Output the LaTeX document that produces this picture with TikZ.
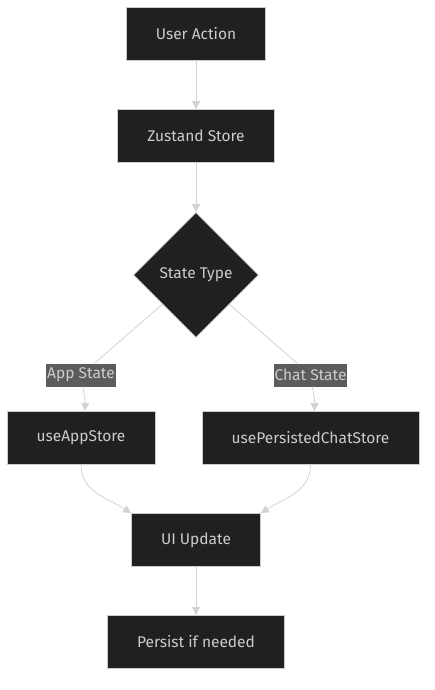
\documentclass[tikz,border=0pt]{standalone}
\usepackage{fontspec}
\setmainfont{Fira Sans}
\usetikzlibrary{arrows.meta,positioning,shapes.geometric}
\definecolor{nodebg}{HTML}{1F2020}
\definecolor{nodeline}{HTML}{CCCCCC}
\definecolor{edgeline}{HTML}{D3D3D3}
\definecolor{lblbg}{HTML}{5C5C5C}

\begin{document}
\begin{tikzpicture}[>={Triangle[length=8pt,width=8pt]}, node distance=100pt, on grid,
  font=\fontsize{15.5}{18}\selectfont,
  box/.style={rectangle, draw=nodeline, line width=0.8pt, fill=nodebg, text=nodeline,
    minimum height=53pt, inner xsep=29.5pt},
  decide/.style={diamond, draw=nodeline, line width=0.8pt, fill=nodebg, text=nodeline,
    minimum width=125pt, minimum height=125pt, inner sep=0pt},
  lbl/.style={rectangle, fill=lblbg, text=nodeline, minimum height=23pt, inner xsep=1pt},
  flow/.style={color=edgeline, line width=0.8pt}]
  \useasboundingbox (0,0) rectangle (434pt,-690pt);

  \node[box]    (user)    at (196pt,-34pt) {User Action};
  \node[box]    (zustand) [below=102pt of user] {Zustand Store};
  \node[decide] (type)    [below=139pt of zustand] {State Type};
  \node[box]    (app)     [below left=163pt and 115pt of type] {useAppStore};
  \node[box]    (chat)    [below right=163pt and 114.5pt of type] {usePersistedChatStore};
  \node[lbl]    (applbl)  [above=63pt of app] {App State};
  \node[lbl]    (chatlbl) [above=63pt of chat] {Chat State};
  \node[box]    (ui)      [below=265pt of type] {UI Update};
  \node[box]    (persist) [below=102pt of ui] {Persist if needed};

  \draw[flow] (type) -- (applbl);
  \draw[flow] (type) -- (chatlbl);
  \draw[flow,->] (user) -- (zustand);
  \draw[flow,->] (zustand) -- (type);
  \draw[flow,->] (applbl) to[bend left=8] (app);
  \draw[flow,->] (chatlbl) to[bend left=8] (chat);
  \draw[flow,->] (app.south) to[out=-90, in=147] (ui.north west);
  \draw[flow,->] (chat.south) to[out=-90, in=33] (ui.north east);
  \draw[flow,->] (ui) -- (persist);

\end{tikzpicture}
\end{document}
